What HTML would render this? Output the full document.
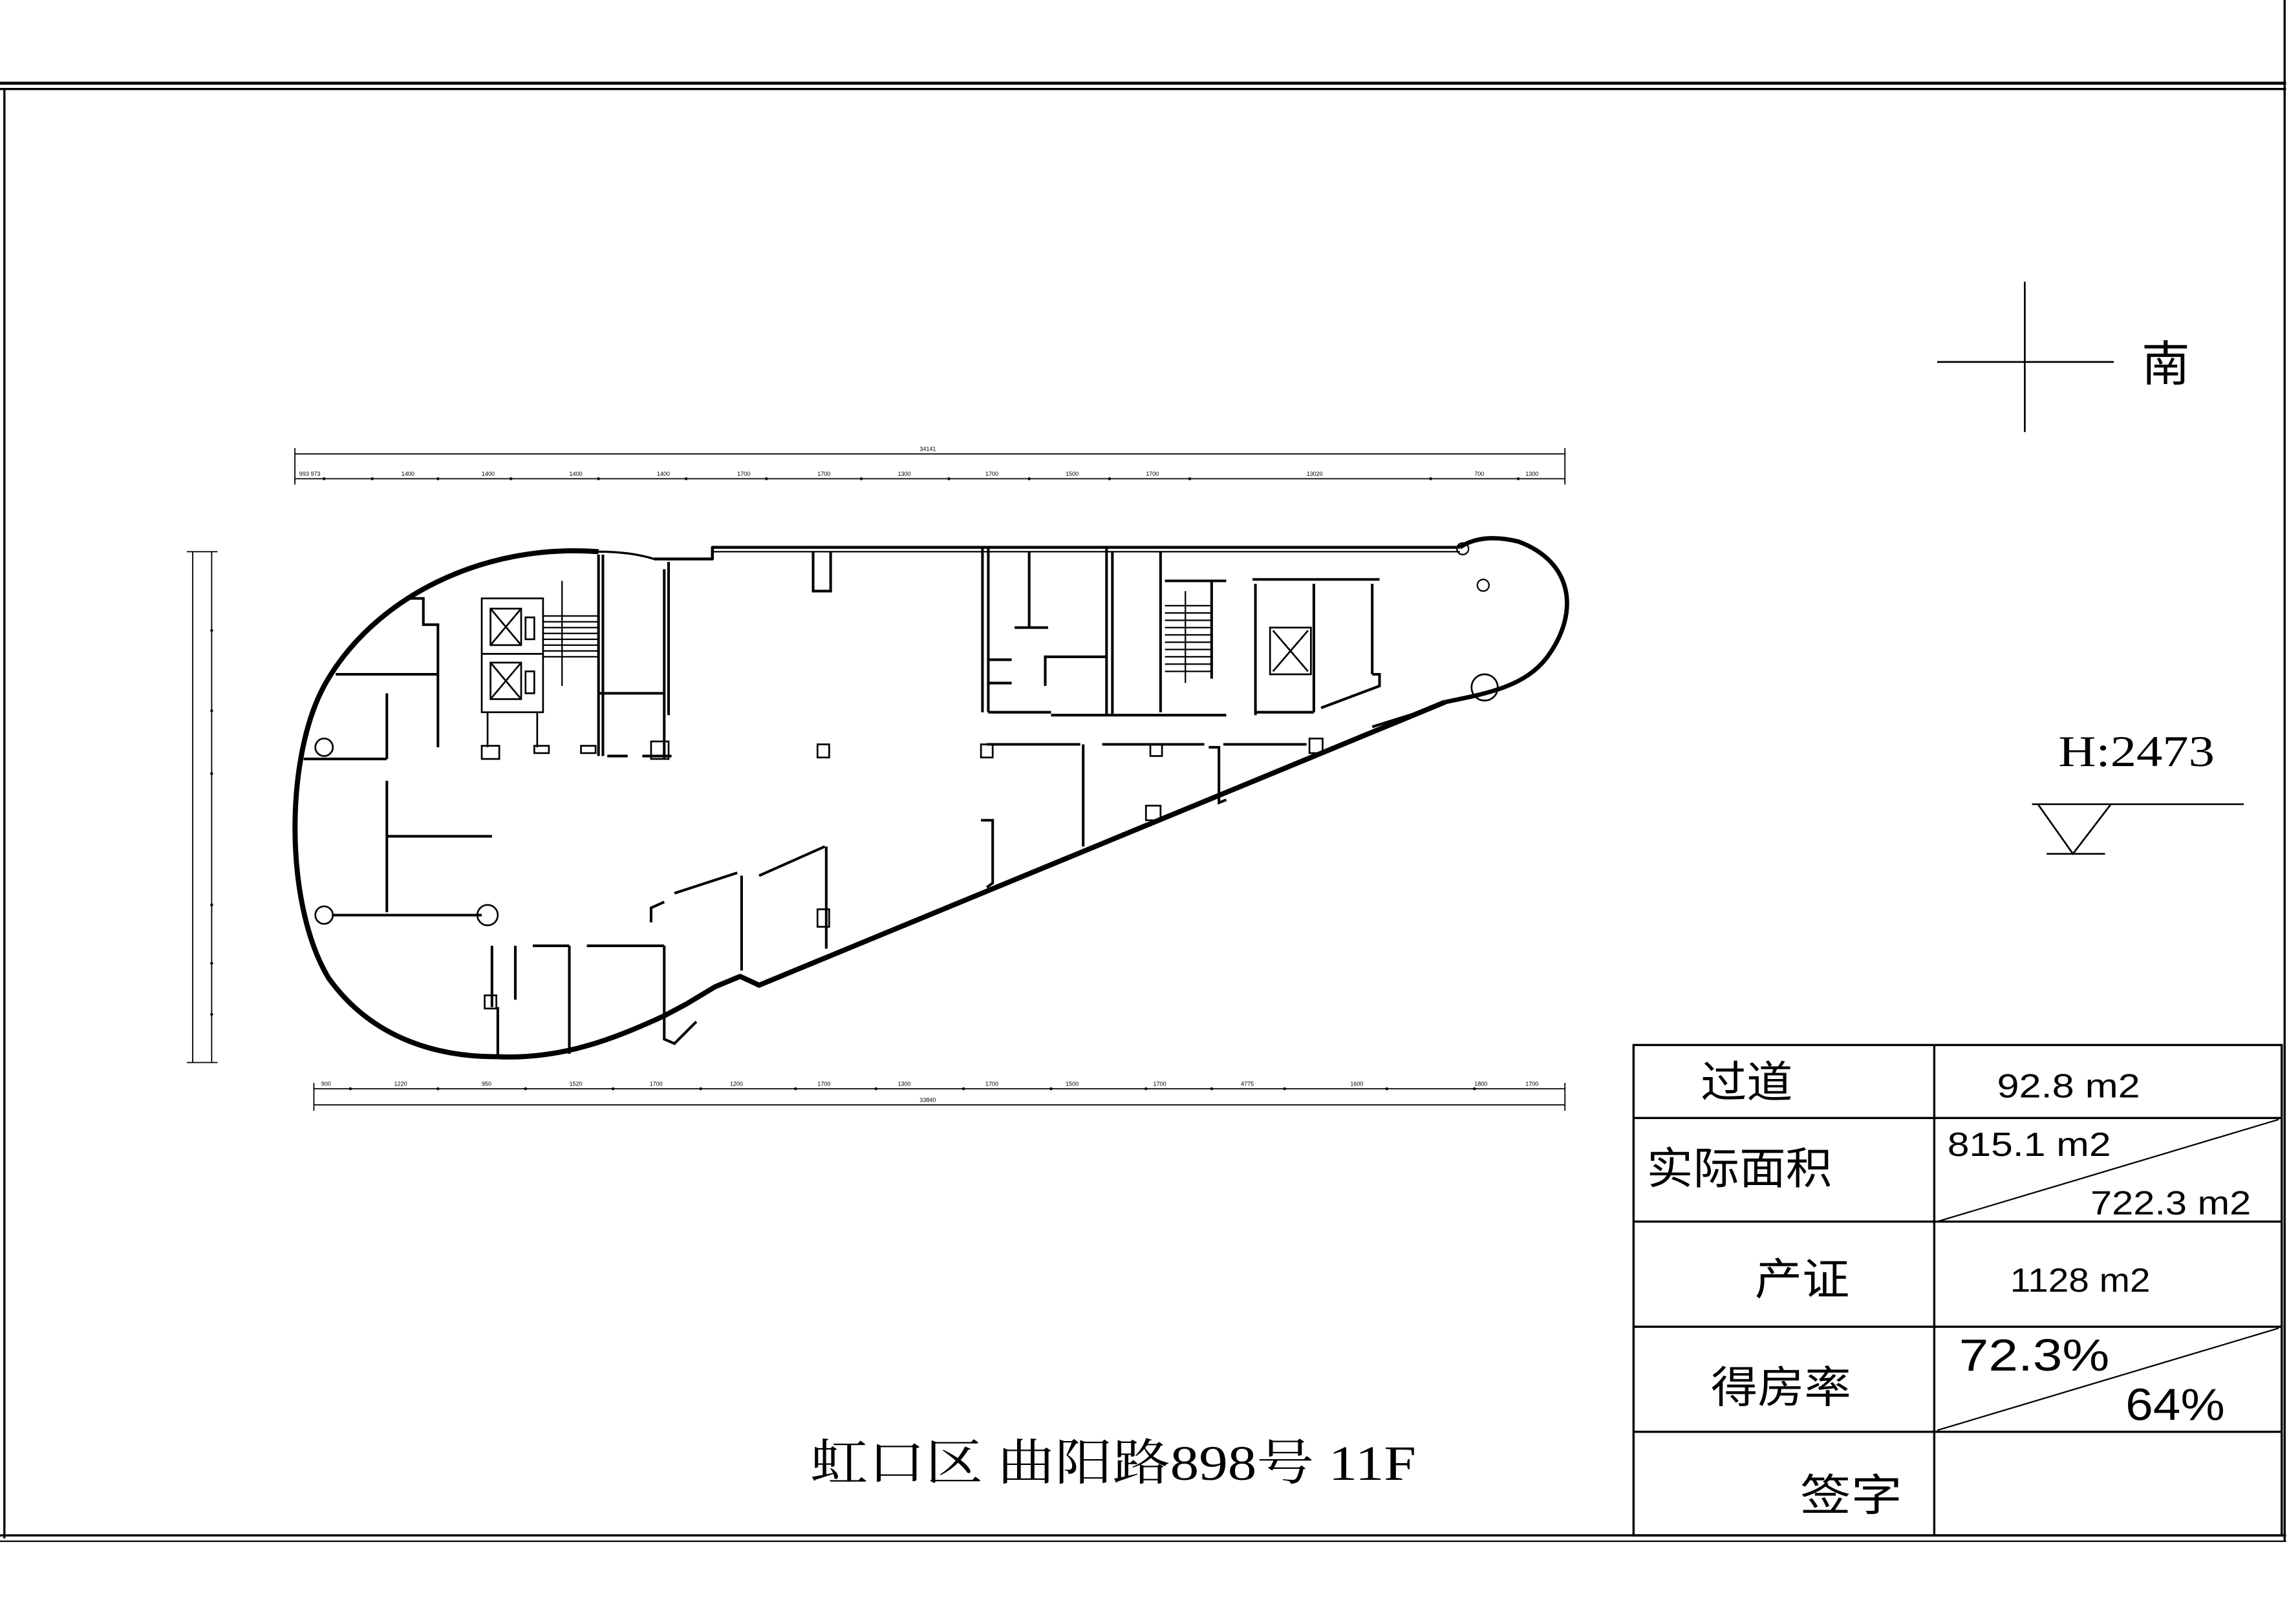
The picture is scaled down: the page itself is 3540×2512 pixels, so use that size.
<!DOCTYPE html>
<html><head><meta charset="utf-8"><style>
html,body{margin:0;padding:0;background:#fff}
svg{display:block}
</style></head><body>
<svg width="3540" height="2512" viewBox="0 0 1568 1112.7" preserveAspectRatio="none" xmlns="http://www.w3.org/2000/svg">
<rect x="0" y="0" width="1568" height="1112.7" fill="#fff"/>
<g stroke="#000" fill="none">
<line x1="0" y1="57" x2="1566" y2="57" stroke-width="2"/>
<line x1="0" y1="61" x2="1566" y2="61" stroke-width="1.5"/>
<line x1="3" y1="61" x2="3" y2="1054" stroke-width="1.5"/>
<line x1="1565" y1="0" x2="1565" y2="1056" stroke-width="1.5"/>
<line x1="0" y1="1052" x2="1566" y2="1052" stroke-width="1.5"/>
<line x1="0" y1="1056" x2="1566" y2="1056" stroke-width="1"/>
</g>
<g stroke="#000" stroke-width="1.2">
<line x1="1327" y1="248" x2="1448" y2="248"/>
<line x1="1387" y1="193" x2="1387" y2="296"/>
</g>
<text x="1467" y="261" font-family="Liberation Sans,Noto Sans CJK SC,sans-serif" font-size="33">南</text>
<text x="1410" y="525" font-family="Liberation Serif,serif" font-size="30" textLength="107" lengthAdjust="spacingAndGlyphs">H:2473</text>
<g stroke="#000" stroke-width="1.2" fill="none">
<line x1="1392" y1="551" x2="1537" y2="551"/>
<polyline points="1396,551 1420,585 1446,551"/>
<line x1="1402" y1="585" x2="1442" y2="585"/>
</g>
<g stroke="#000" stroke-width="1.5" fill="none">
<rect x="1119" y="716" width="444" height="336"/>
<line x1="1325" y1="716" x2="1325" y2="1052"/>
<line x1="1119" y1="766" x2="1563" y2="766"/>
<line x1="1119" y1="837" x2="1563" y2="837"/>
<line x1="1119" y1="909" x2="1563" y2="909"/>
<line x1="1119" y1="981" x2="1563" y2="981"/>
<line x1="1327" y1="837" x2="1561" y2="767" stroke-width="1"/>
<line x1="1327" y1="980" x2="1561" y2="910" stroke-width="1"/>
</g>
<g font-family="Liberation Sans,Noto Sans CJK SC,sans-serif" fill="#000">
<text x="1165" y="752" font-size="30" textLength="63" lengthAdjust="spacingAndGlyphs">过道</text>
<text x="1128" y="811" font-size="30" textLength="127" lengthAdjust="spacingAndGlyphs">实际面积</text>
<text x="1202" y="887" font-size="30" textLength="65" lengthAdjust="spacingAndGlyphs">产证</text>
<text x="1172" y="961" font-size="30" textLength="96" lengthAdjust="spacingAndGlyphs">得房率</text>
<text x="1233" y="1035" font-size="30" textLength="70" lengthAdjust="spacingAndGlyphs">签字</text>
<text x="1368" y="752" font-size="23" textLength="98" lengthAdjust="spacingAndGlyphs">92.8 m2</text>
<text x="1334" y="792" font-size="23" textLength="112" lengthAdjust="spacingAndGlyphs">815.1 m2</text>
<text x="1432" y="832" font-size="23" textLength="110" lengthAdjust="spacingAndGlyphs">722.3 m2</text>
<text x="1377" y="885" font-size="23" textLength="96" lengthAdjust="spacingAndGlyphs">1128 m2</text>
<text x="1342" y="939" font-size="31" textLength="103" lengthAdjust="spacingAndGlyphs">72.3%</text>
<text x="1456" y="973" font-size="31" textLength="68" lengthAdjust="spacingAndGlyphs">64%</text>
</g>
<text x="555" y="1014" font-family="Liberation Serif,Noto Serif CJK SC,serif" font-size="34" textLength="415" lengthAdjust="spacingAndGlyphs">虹口区 曲阳路898号 11F</text>
<g stroke="#000" stroke-width="0.8" fill="none">
<line x1="202" y1="311" x2="1072" y2="311"/>
<line x1="202" y1="328" x2="1072" y2="328"/>
<line x1="215" y1="746" x2="1072" y2="746"/>
<line x1="215" y1="757" x2="1072" y2="757"/>
<line x1="132" y1="378" x2="132" y2="728"/>
<line x1="145" y1="378" x2="145" y2="728"/>
<line x1="128" y1="378" x2="149" y2="378"/>
<line x1="128" y1="728" x2="149" y2="728"/>
<line x1="202" y1="307" x2="202" y2="332"/>
<line x1="1072" y1="307" x2="1072" y2="332"/>
<line x1="215" y1="742" x2="215" y2="761"/>
<line x1="1072" y1="742" x2="1072" y2="761"/>
</g>
<g fill="#000">
<circle cx="145" cy="432" r="1"/><circle cx="145" cy="487" r="1"/><circle cx="145" cy="530" r="1"/><circle cx="145" cy="620" r="1"/><circle cx="145" cy="660" r="1"/><circle cx="145" cy="695" r="1"/>
<circle cx="222" cy="328" r="1"/><circle cx="255" cy="328" r="1"/><circle cx="300" cy="328" r="1"/><circle cx="350" cy="328" r="1"/><circle cx="410" cy="328" r="1"/><circle cx="470" cy="328" r="1"/><circle cx="525" cy="328" r="1"/><circle cx="590" cy="328" r="1"/><circle cx="650" cy="328" r="1"/><circle cx="705" cy="328" r="1"/><circle cx="760" cy="328" r="1"/><circle cx="815" cy="328" r="1"/><circle cx="980" cy="328" r="1"/><circle cx="1040" cy="328" r="1"/>
<circle cx="240" cy="746" r="1"/><circle cx="300" cy="746" r="1"/><circle cx="360" cy="746" r="1"/><circle cx="420" cy="746" r="1"/><circle cx="480" cy="746" r="1"/><circle cx="545" cy="746" r="1"/><circle cx="600" cy="746" r="1"/><circle cx="660" cy="746" r="1"/><circle cx="720" cy="746" r="1"/><circle cx="785" cy="746" r="1"/><circle cx="830" cy="746" r="1"/><circle cx="880" cy="746" r="1"/><circle cx="950" cy="746" r="1"/><circle cx="1010" cy="746" r="1"/>
</g>
<g font-family="Liberation Sans,sans-serif" font-size="4" fill="#000">
<text x="630" y="309">34141</text>
<text x="205" y="326">993 973</text><text x="275" y="326">1400</text><text x="330" y="326">1400</text><text x="390" y="326">1400</text><text x="450" y="326">1400</text><text x="505" y="326">1700</text><text x="560" y="326">1700</text><text x="615" y="326">1300</text><text x="675" y="326">1700</text><text x="730" y="326">1500</text><text x="785" y="326">1700</text><text x="895" y="326">13020</text><text x="1010" y="326">700</text><text x="1045" y="326">1300</text>
<text x="630" y="755">33840</text>
<text x="220" y="744">900</text><text x="270" y="744">1220</text><text x="330" y="744">950</text><text x="390" y="744">1520</text><text x="445" y="744">1700</text><text x="500" y="744">1200</text><text x="560" y="744">1700</text><text x="615" y="744">1300</text><text x="675" y="744">1700</text><text x="730" y="744">1500</text><text x="790" y="744">1700</text><text x="850" y="744">4775</text><text x="925" y="744">1600</text><text x="1010" y="744">1800</text><text x="1045" y="744">1700</text>
</g>
<g stroke="#000" fill="none" stroke-linejoin="round">
<path d="M410 378 C330 372 255 410 222 470 C195 520 195 620 225 670 C255 712 300 724 340 724 C385 726 420 712 455 696 L470 688 L490 676 L507 669 L520 675 L990 481" stroke-width="3.5"/>
<path d="M990 481 C1020 475 1045 470 1060 450 C1082 420 1078 385 1040 371 Q1015 365 1000 375" stroke-width="3"/>
<path d="M410 378 Q432 378 448 383" stroke-width="1.5"/>
<path d="M448 383 L488 383 L488 375 L1000 375" stroke-width="2"/>
<line x1="488" y1="378" x2="1000" y2="378" stroke-width="1"/>
<circle cx="1002" cy="376" r="4" stroke-width="1"/>
<circle cx="1016" cy="401" r="4" stroke-width="1"/>
<circle cx="1017" cy="471" r="9" stroke-width="1.2"/>
</g>
<g stroke="#000" stroke-width="1.8" fill="none">
<polyline points="278,410 290,410 290,428 300,428 300,512"/>
<line x1="230" y1="462" x2="300" y2="462"/>
<line x1="265" y1="475" x2="265" y2="520"/>
<line x1="208" y1="520" x2="265" y2="520"/>
<line x1="265" y1="535" x2="265" y2="625"/>
<line x1="265" y1="573" x2="337" y2="573"/>
<line x1="228" y1="627" x2="330" y2="627"/>
<line x1="337" y1="648" x2="337" y2="690"/>
<line x1="353" y1="648" x2="353" y2="685"/>
<line x1="341" y1="690" x2="341" y2="724"/>
<line x1="365" y1="648" x2="390" y2="648"/>
<line x1="390" y1="648" x2="390" y2="722"/>
<line x1="402" y1="648" x2="455" y2="648"/>
<polyline points="455,648 455,712 462,715 477,700"/>
<line x1="410" y1="380" x2="410" y2="518"/>
<line x1="413" y1="380" x2="413" y2="518"/>
<line x1="410" y1="475" x2="455" y2="475"/>
<line x1="455" y1="390" x2="455" y2="520"/>
<line x1="458" y1="385" x2="458" y2="490"/>
<line x1="416" y1="518" x2="430" y2="518"/>
<line x1="440" y1="518" x2="460" y2="518"/>
<polyline points="557,378 557,405 569,405 569,378"/>
<line x1="673" y1="375" x2="673" y2="488"/>
<line x1="677" y1="375" x2="677" y2="488"/>
<line x1="677" y1="488" x2="720" y2="488"/>
<line x1="705" y1="378" x2="705" y2="430"/>
<line x1="695" y1="430" x2="718" y2="430"/>
<line x1="677" y1="452" x2="693" y2="452"/>
<line x1="677" y1="468" x2="693" y2="468"/>
<polyline points="716,470 716,450 758,450"/>
<line x1="758" y1="375" x2="758" y2="490"/>
<line x1="762" y1="378" x2="762" y2="490"/>
<line x1="720" y1="490" x2="840" y2="490"/>
<line x1="795" y1="378" x2="795" y2="488"/>
<line x1="798" y1="398" x2="840" y2="398"/>
<line x1="830" y1="398" x2="830" y2="465"/>
<line x1="858" y1="397" x2="945" y2="397"/>
<line x1="860" y1="400" x2="860" y2="490"/>
<line x1="900" y1="400" x2="900" y2="488"/>
<line x1="860" y1="488" x2="900" y2="488"/>
<line x1="940" y1="400" x2="940" y2="462"/>
<polyline points="940,462 945,462 945,470 905,485"/>
<line x1="676" y1="510" x2="740" y2="510"/>
<line x1="755" y1="510" x2="825" y2="510"/>
<line x1="838" y1="510" x2="895" y2="510"/>
<line x1="742" y1="510" x2="742" y2="580"/>
<polyline points="828,512 835,512 835,550 840,548"/>
<polyline points="672,562 680,562 680,605 676,608"/>
<line x1="462" y1="612" x2="505" y2="598"/>
<line x1="520" y1="600" x2="565" y2="580"/>
<line x1="508" y1="600" x2="508" y2="665"/>
<line x1="566" y1="580" x2="566" y2="650"/>
<polyline points="446,632 446,622 455,618"/>
<line x1="940" y1="498" x2="975" y2="487"/>
</g>
<g stroke="#000" stroke-width="1.2" fill="none">
<rect x="330" y="410" width="42" height="78"/>
<rect x="336" y="417" width="21" height="25"/><line x1="336" y1="417" x2="357" y2="442"/><line x1="357" y1="417" x2="336" y2="442"/>
<rect x="336" y="454" width="21" height="25"/><line x1="336" y1="454" x2="357" y2="479"/><line x1="357" y1="454" x2="336" y2="479"/>
<rect x="360" y="423" width="6" height="15"/><rect x="360" y="460" width="6" height="15"/>
<line x1="330" y1="448" x2="372" y2="448"/>
<line x1="334" y1="488" x2="334" y2="512"/><line x1="368" y1="488" x2="368" y2="512"/>
<rect x="330" y="511" width="12" height="9"/><rect x="366" y="511" width="10" height="5"/><rect x="398" y="511" width="10" height="5"/>
<rect x="870" y="430" width="28" height="32"/><line x1="872" y1="432" x2="896" y2="460"/><line x1="896" y1="432" x2="872" y2="460"/>
<rect x="560" y="510" width="8" height="9"/><rect x="672" y="510" width="8" height="9"/>
<rect x="785" y="552" width="10" height="10"/><rect x="788" y="510" width="8" height="8"/>
<rect x="897" y="506" width="9" height="10"/>
<rect x="560" y="623" width="8" height="12"/>
<rect x="332" y="682" width="8" height="9"/>
<rect x="446" y="508" width="12" height="12"/>
<circle cx="222" cy="512" r="6"/><circle cx="222" cy="627" r="6"/><circle cx="334" cy="627" r="7"/>
</g>
<g stroke="#000" stroke-width="1">
<line x1="372" y1="422" x2="410" y2="422"/><line x1="372" y1="426" x2="410" y2="426"/><line x1="372" y1="430" x2="410" y2="430"/><line x1="372" y1="434" x2="410" y2="434"/><line x1="372" y1="438" x2="410" y2="438"/><line x1="372" y1="442" x2="410" y2="442"/><line x1="372" y1="446" x2="410" y2="446"/><line x1="372" y1="450" x2="410" y2="450"/>
<line x1="385" y1="398" x2="385" y2="470"/>
<line x1="798" y1="415" x2="830" y2="415"/><line x1="798" y1="420" x2="830" y2="420"/><line x1="798" y1="425" x2="830" y2="425"/><line x1="798" y1="430" x2="830" y2="430"/><line x1="798" y1="435" x2="830" y2="435"/><line x1="798" y1="440" x2="830" y2="440"/><line x1="798" y1="445" x2="830" y2="445"/><line x1="798" y1="450" x2="830" y2="450"/><line x1="798" y1="455" x2="830" y2="455"/><line x1="798" y1="460" x2="830" y2="460"/>
<line x1="812" y1="405" x2="812" y2="468"/>
</g>
</svg>
</body></html>
